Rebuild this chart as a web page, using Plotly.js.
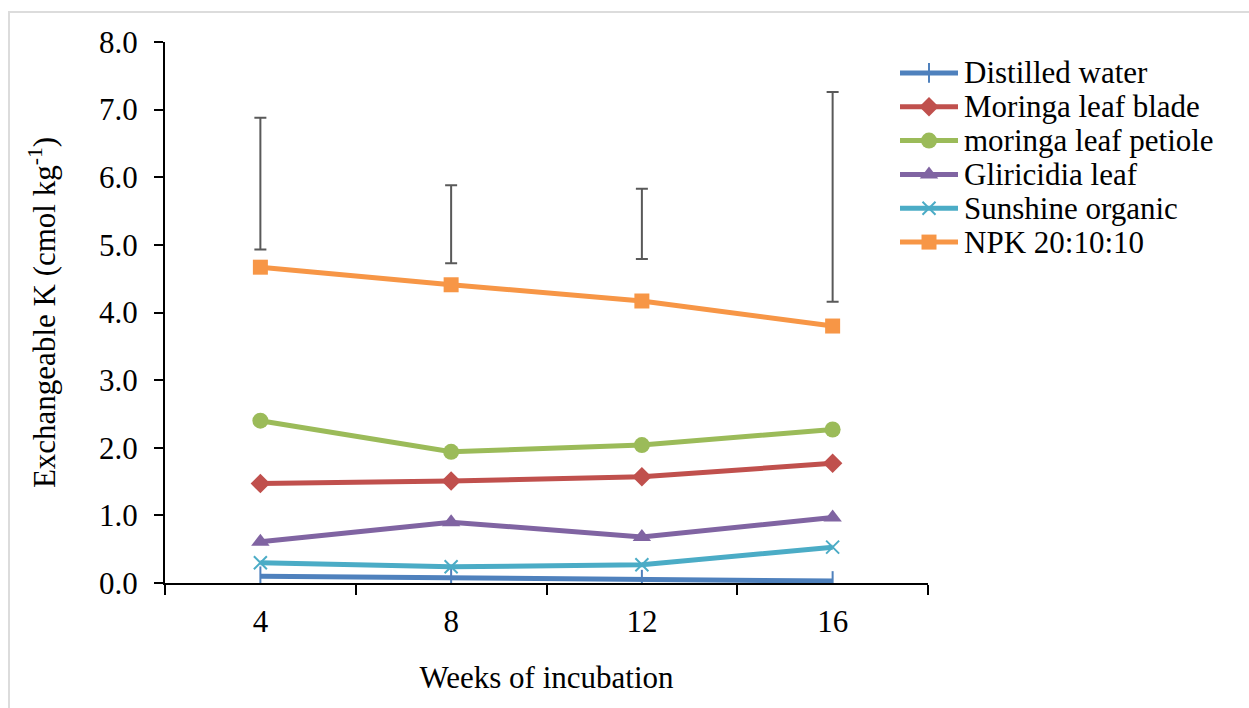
<!DOCTYPE html>
<html>
<head>
<meta charset="utf-8">
<script src="https://cdn.plot.ly/plotly-3.0.1.min.js"></script>
<style>
  html, body { margin: 0; padding: 0; background: #fff; }
  #wrap { position: relative; width: 1249px; height: 708px; }
  #chart { width: 1249px; height: 708px; }
  #frame { position: absolute; left: 8px; top: 11px; right: 0; bottom: 0;
           border-top: 2px solid #dcdcdc; border-left: 2px solid #dcdcdc; pointer-events: none; }
</style>
</head>
<body>
<div id="wrap"><div id="chart"></div><div id="frame"></div></div>
<script>
const weeks = ["4", "8", "12", "16"];
const seriesNames = ["Distilled water", "Moringa leaf blade", "moringa leaf petiole",
                     "Gliricidia leaf", "Sunshine organic", "NPK 20:10:10"];
const distilledWater = [0.10, 0.08, 0.05, 0.03];
const moringaBlade = [1.47, 1.51, 1.57, 1.77];
const moringaPetiole = [2.40, 1.94, 2.04, 2.27];
const gliricidia = [0.61, 0.90, 0.68, 0.97];
const sunshine = [0.30, 0.24, 0.27, 0.53];
const npk = [4.67, 4.41, 4.17, 3.80];
// error bar ends (NPK series)
const errLow = [4.93, 4.73, 4.79, 4.16];
const errHigh = [6.88, 5.88, 5.83, 7.26];

const font = "Liberation Serif, Times New Roman, serif";
const FS = 31;
const W = 1249, H = 708;

const styles = [
  { color: "#4F81BD", symbol: "line-ns", size: 14, open: true },
  { color: "#C0504D", symbol: "diamond", size: 15 },
  { color: "#9BBB59", symbol: "circle", size: 16 },
  { color: "#8064A2", symbol: "triangle-up", size: 16 },
  { color: "#4BACC6", symbol: "x-thin", size: 13, open: true },
  { color: "#F79646", symbol: "square", size: 15 }
];
const values = [distilledWater, moringaBlade, moringaPetiole, gliricidia, sunshine, npk];

function mk(st) {
  const m = { symbol: st.symbol, size: st.size, color: st.color, opacity: 1 };
  if (st.open) m.line = { color: st.color, width: 2 };
  else m.line = { width: 0 };
  return m;
}

const data = [];
values.forEach((y, i) => {
  const st = styles[i];
  data.push({ x: weeks, y: y, name: seriesNames[i], type: "scatter", mode: "lines+markers",
              line: { color: st.color, width: 5 }, marker: mk(st),
              xaxis: "x", yaxis: "y", showlegend: false });
});

const errCenter = errLow.map((v, i) => (v + errHigh[i]) / 2);
const errHalf = errLow.map((v, i) => (errHigh[i] - v) / 2);
data.push({ x: weeks, y: errCenter, type: "scatter", mode: "markers", showlegend: false,
  hoverinfo: "skip", marker: { size: 1, opacity: 0 },
  error_y: { type: "data", array: errHalf, visible: true, color: "#595959", thickness: 2, width: 6 } });

// custom legend (drawn on hidden axes so the row spacing matches)
const annotations = [];
seriesNames.forEach((name, i) => {
  const st = styles[i];
  const row = i + 1;
  data.push({ x: [0, 1], y: [row, row], type: "scatter", mode: "lines",
              xaxis: "x2", yaxis: "y2", showlegend: false, hoverinfo: "skip",
              line: { color: st.color, width: 5 } });
  data.push({ x: [0.5], y: [row], type: "scatter", mode: "markers",
              xaxis: "x2", yaxis: "y2", showlegend: false, hoverinfo: "skip",
              marker: mk(st) });
  annotations.push({ xref: "paper", yref: "y2", x: 962 / W, y: row, text: name,
                     xanchor: "left", yanchor: "middle", showarrow: false,
                     font: { family: font, size: FS, color: "#000" } });
});

const layout = {
  width: W, height: H,
  margin: { l: 0, r: 0, t: 0, b: 0 },
  paper_bgcolor: "#fff", plot_bgcolor: "rgba(0,0,0,0)",
  font: { family: font, size: FS, color: "#000" },
  showlegend: false,
  annotations: annotations,
  xaxis: {
    domain: [165 / W, 928 / W],
    type: "category", range: [-0.5, 3.5], tickson: "boundaries",
    showline: true, linecolor: "#000", linewidth: 2, ticks: "outside", ticklen: 10,
    tickcolor: "#000", tickwidth: 2, showgrid: false, zeroline: false,
    ticklabelstandoff: 10,
    tickfont: { family: font, size: FS },
    title: { text: "Weeks of incubation", font: { family: font, size: FS }, standoff: 28 }
  },
  yaxis: {
    domain: [(H - 583) / H, (H - 42) / H],
    range: [0, 8], dtick: 1, tickformat: ".1f",
    showline: true, linecolor: "#000", linewidth: 2, ticks: "outside", ticklen: 9,
    tickcolor: "#000", tickwidth: 2, showgrid: false, zeroline: false,
    ticklabelstandoff: 10,
    tickfont: { family: font, size: FS },
    title: { text: "Exchangeable K (cmol kg<sup>-1</sup>)", font: { family: font, size: FS }, standoff: 34 }
  },
  xaxis2: { domain: [900 / W, 958 / W], range: [0, 1], visible: false, fixedrange: true, anchor: "y2" },
  yaxis2: { domain: [(H - 259) / H, (H - 56) / H], range: [6.5, 0.5], visible: false, fixedrange: true, anchor: "x2" }
};

Plotly.newPlot("chart", data, layout, { displayModeBar: false, staticPlot: true });
</script>
</body>
</html>
